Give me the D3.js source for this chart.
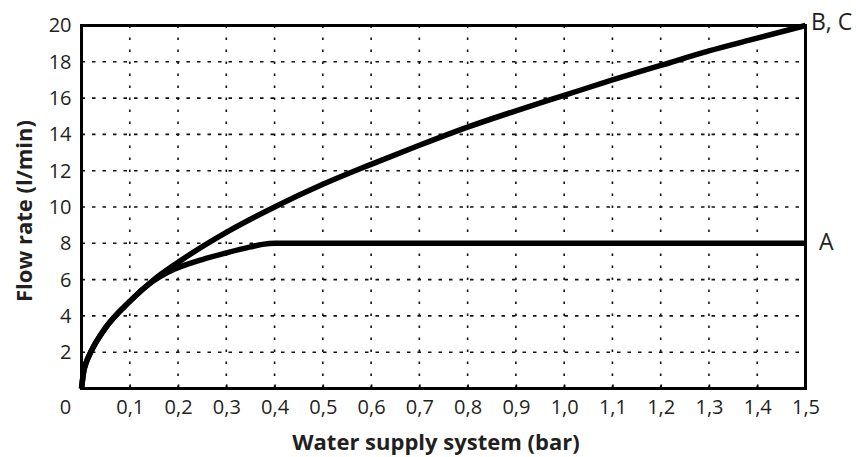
<!DOCTYPE html>
<html>
<head>
<meta charset="utf-8">
<script src="https://cdn.jsdelivr.net/npm/d3@7"></script>
<style>
  html, body { margin: 0; padding: 0; background: #fff; }
  svg { display: block; }
  text { font-family: "Open Sans", "Noto Sans", sans-serif; fill: #231f20; }
</style>
</head>
<body>
<svg id="chart" width="856" height="457"></svg>
<script>
// Pressure (bar) against flow rate (l/min) for the three models
const pressureBC = [0, 0.005, 0.01, 0.02, 0.05, 0.1, 0.15, 0.2, 0.3, 0.4, 0.5, 0.6, 0.7, 0.8, 0.9, 1.0, 1.1, 1.2, 1.3, 1.4, 1.5];
const flowBC     = [0, 1.0, 1.45, 2.05, 3.35, 4.8, 6.0, 6.95, 8.6, 10.0, 11.25, 12.35, 13.4, 14.4, 15.3, 16.15, 17.0, 17.8, 18.6, 19.3, 20];

const pressureA = [0, 0.005, 0.01, 0.02, 0.05, 0.1, 0.15, 0.175, 0.2, 0.25, 0.3, 0.35, 0.375, 0.4, 0.5, 0.75, 1.0, 1.25, 1.5];
const flowA     = [0, 1.0, 1.45, 2.05, 3.35, 4.8, 5.95, 6.35, 6.65, 7.1, 7.47, 7.8, 7.94, 8.0, 8.0, 8.0, 8.0, 8.0, 8.0];

const xTicks = [0.1, 0.2, 0.3, 0.4, 0.5, 0.6, 0.7, 0.8, 0.9, 1.0, 1.1, 1.2, 1.3, 1.4, 1.5];
const yTicks = [2, 4, 6, 8, 10, 12, 14, 16, 18, 20];
const seriesLabels = ["B, C", "A"];

const svg = d3.select("#chart");
const plotL = 81.5, plotR = 805.5, plotT = 25.5, plotB = 388.5;

const x = d3.scaleLinear().domain([0, 1.5]).range([plotL, plotR]);
const y = d3.scaleLinear().domain([0, 20]).range([plotB, plotT]);

const fmt = d => d.toFixed(1).replace(".", ",");

// dotted grid
const grid = svg.append("g");
grid.selectAll("line.h").data(yTicks.filter(d => d < 20)).join("line")
  .attr("x1", plotL).attr("x2", plotR)
  .attr("y1", d => y(d)).attr("y2", d => y(d))
  .attr("stroke", "#111").attr("stroke-width", 1.6)
  .attr("stroke-dasharray", "3.5 7");
grid.selectAll("line.v").data(xTicks.filter(d => d < 1.5)).join("line")
  .attr("x1", d => x(d)).attr("x2", d => x(d))
  .attr("y1", plotT).attr("y2", plotB)
  .attr("stroke", "#111").attr("stroke-width", 1.6)
  .attr("stroke-dasharray", "2.5 9.5");

// x axis: small inward ticks, labels with a decimal comma
const xAxis = d3.axisBottom(x).tickValues(xTicks).tickFormat(fmt).tickSizeInner(-4).tickSizeOuter(0).tickPadding(11);
const gx = svg.append("g").attr("transform", `translate(0,${plotB})`).call(xAxis);
gx.select(".domain").remove();
gx.selectAll(".tick line").attr("stroke", "#000").attr("stroke-width", 1.6);
gx.selectAll(".tick text").attr("font-size", 20).attr("font-family", "Open Sans").attr("fill", "#231f20");

// shared origin label
svg.append("text").attr("x", 65.5).attr("y", 414).attr("text-anchor", "middle")
  .attr("font-size", 20).text("0");

// y axis
const yAxis = d3.axisLeft(y).tickValues(yTicks).tickSize(0).tickPadding(10);
const gy = svg.append("g").attr("transform", `translate(${plotL},0)`).call(yAxis);
gy.select(".domain").remove();
gy.selectAll(".tick text").attr("font-size", 20).attr("font-family", "Open Sans").attr("fill", "#231f20");

// plot frame
svg.append("rect").attr("x", plotL).attr("y", plotT)
  .attr("width", plotR - plotL).attr("height", plotB - plotT)
  .attr("fill", "none").attr("stroke", "#000").attr("stroke-width", 3);

// curves
const line = d3.line().x(d => x(d[0])).y(d => y(d[1])).curve(d3.curveMonotoneX);
const bc = pressureBC.map((p, i) => [p, flowBC[i]]);
const a = pressureA.map((p, i) => [p, flowA[i]]);
[bc, a].forEach(pts => {
  svg.append("path").attr("d", line(pts)).attr("fill", "none")
    .attr("stroke", "#000").attr("stroke-width", 5.5).attr("stroke-linejoin", "round");
});

// series labels at the right end of each curve
svg.append("text").attr("x", 811).attr("y", 30).attr("font-size", 23).text(seriesLabels[0]);
svg.append("text").attr("x", 819).attr("y", 250).attr("font-size", 23).text(seriesLabels[1]);

// axis titles
svg.append("text").attr("x", 436).attr("y", 450).attr("text-anchor", "middle")
  .attr("font-size", 22).attr("font-weight", 700).attr("fill", "#231f20")
  .text("Water supply system (bar)");
svg.append("text").attr("transform", "translate(32,211) rotate(-90)")
  .attr("text-anchor", "middle").attr("font-size", 22).attr("font-weight", 700)
  .text("Flow rate (l/min)");
</script>
</body>
</html>
